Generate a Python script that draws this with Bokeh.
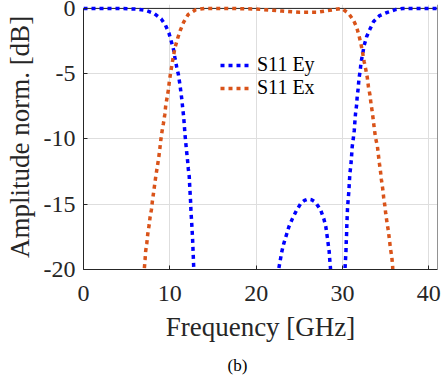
import math
from bokeh.plotting import figure
from bokeh.models import Range1d, FixedTicker, Legend, LegendItem, Title, Span
from bokeh.embed import file_html
from bokeh.resources import INLINE

NAN = float("nan")

# S11 Ey (three visible segments, separated by NaN where below -20 dB)
ey_freq = [0, 2, 4, 6.2, 7.2, 8.2, 9.0, 9.5, 9.9, 10.2, 10.45, 10.6, 10.8, 11.0, 11.16, 11.28,
           11.4, 11.5, 11.6, 11.68, 11.76, 11.86, 11.95, 12.06, 12.14, 12.25, 12.3, 12.36, 12.41,
           12.45, 12.52, 12.57, 12.63, 12.67, 12.71, 12.75, 12.8,
           NAN,
           22.5, 22.64, 22.8, 22.98, 23.2, 23.5, 23.8, 24.2, 24.65, 25.2, 25.6, 26.0, 26.4, 26.86,
           27.44, 27.83, 28.06, 28.2, 28.33, 28.45, 28.52, 28.6, 28.65,
           NAN,
           30.25, 30.3, 30.35, 30.4, 30.43, 30.47, 30.5, 30.54, 30.58, 30.66, 30.74, 30.79, 30.86,
           30.97, 31.05, 31.12, 31.24, 31.36, 31.43, 31.5, 31.63, 31.7, 31.82, 31.9, 32.05, 32.15,
           32.33, 32.5, 32.8, 33.2, 33.6, 34.3, 35.2, 36.2, 37, 39, 41]
ey_db = [0, 0, 0, -0.05, -0.15, -0.4, -0.8, -1.3, -1.9, -2.6, -3.2, -3.85, -4.5, -5.1, -5.8, -6.4,
         -7.05, -7.7, -8.3, -9.0, -9.7, -10.4, -11.0, -11.7, -12.3, -12.9, -13.6, -14.3, -14.9,
         -15.6, -16.3, -16.9, -17.6, -18.25, -18.9, -19.6, -20.5,
         NAN,
         -20.5, -19.85, -19.25, -18.6, -18.0, -17.35, -16.7, -16.1, -15.5, -14.9, -14.7, -14.6, -14.65,
         -14.85, -15.4, -16.1, -16.7, -17.35, -18.0, -18.6, -19.25, -19.85, -20.5,
         NAN,
         -20.5, -19.8, -19.2, -18.55, -17.9, -17.3, -16.6, -15.95, -15.3, -14.6, -13.95, -13.3, -12.6,
         -12.0, -11.3, -10.6, -10.0, -9.35, -8.7, -8.1, -7.4, -6.75, -6.1, -5.4, -4.75, -4.1,
         -3.5, -2.85, -2.15, -1.55, -1.0, -0.55, -0.3, -0.08, 0, 0, 0]

# S11 Ex
ex_freq = [7.0, 7.05, 7.13, 7.2, 7.33, 7.44, 7.6, 7.71, 7.87, 7.99, 8.14, 8.26, 8.41, 8.57, 8.72,
           8.84, 8.95, 9.1, 9.26, 9.42, 9.53, 9.69, 9.84, 9.96, 10.1, 10.27, 10.43, 10.6, 10.9,
           11.2, 11.6, 12.13, 13.0, 14, 17, 20, 23, 25, 27, 28.5, 29.9, 30.66, 31.24, 31.63,
           31.9, 32.13, 32.33, 32.5, 32.7, 32.87, 33.0, 33.17, 33.3, 33.45, 33.57, 33.68, 33.82,
           34.04, 34.15, 34.27, 34.4, 34.5, 34.65, 34.77, 34.9, 35.0, 35.15, 35.3, 35.43, 35.55,
           35.7, 35.8, 35.85]
ex_db = [-20.5, -19.9, -19.25, -18.6, -18.0, -17.3, -16.6, -16.0, -15.4, -14.7, -14.0, -13.4, -12.7,
         -12.05, -11.4, -10.75, -10.1, -9.4, -8.8, -8.1, -7.4, -6.8, -6.2, -5.5, -4.9, -4.2, -3.6,
         -3.0, -2.3, -1.7, -1.05, -0.46, -0.1, 0, 0, -0.05, -0.2, -0.3, -0.3, -0.15, 0, -0.36,
         -0.87, -1.43, -2.07, -2.7, -3.4, -4.05, -4.7, -5.3, -6.0, -6.6, -7.3, -7.95, -8.6, -9.2,
         -9.9, -10.56, -11.2, -11.86, -12.5, -13.1, -13.8, -14.5, -15.1, -15.7, -16.4, -17.0,
         -17.7, -18.4, -19.0, -19.7, -20.5]

x_ticks = [0, 10, 20, 30, 40]
x_tick_labels = ["0", "10", "20", "30", "40"]
y_ticks = [-20, -15, -10, -5, 0]
y_tick_labels = ["-20", "-15", "-10", "-5", "0"]

SERIF = "'Liberation Serif'"
TICK_SERIF = "Liberation Serif"
DARK = "#262626"
BLUE = "#0000FF"
ORANGE = "#D95319"

p = figure(width=444, height=385, output_backend="svg", toolbar_location=None,
           x_range=Range1d(0, 41), y_range=Range1d(-20, 0.3),
           min_border_left=83, min_border_right=7, min_border_top=4, min_border_bottom=116)
p.outline_line_color = None
p.background_fill_color = "white"
p.border_fill_color = "white"

p.grid.grid_line_color = "#dedede"
p.xgrid.ticker = FixedTicker(ticks=x_ticks)
p.ygrid.ticker = FixedTicker(ticks=y_ticks)

xa = p.xaxis[0]
xa.ticker = FixedTicker(ticks=x_ticks)
xa.major_label_overrides = dict(zip(x_ticks, x_tick_labels))
xa.axis_label = "Frequency [GHz]"
ya = p.yaxis[0]
ya.ticker = FixedTicker(ticks=y_ticks)
ya.major_label_overrides = dict(zip(y_ticks, y_tick_labels))
ya.axis_label = "Amplitude norm. [dB]"
ya.bounds = (-20, 0)

for ax in (xa, ya):
    ax.axis_line_color = DARK
    ax.major_tick_line_color = DARK
    ax.major_tick_in = 4
    ax.major_tick_out = 0
    ax.minor_tick_line_color = None
    ax.major_label_text_font = TICK_SERIF
    ax.major_label_text_font_size = "24px"
    ax.major_label_text_color = DARK
    ax.axis_label_text_font = SERIF
    ax.axis_label_text_font_size = "27px"
    ax.axis_label_text_font_style = "normal"
    ax.axis_label_text_color = DARK

xa.major_label_standoff = 16
xa.axis_label_standoff = 8
ya.major_label_standoff = 8
ya.axis_label_standoff = 6

right_edge = Span(location=p.x_range.end, dimension="height", line_color=DARK, line_width=1,
                  level="underlay")
top_edge = Span(location=y_ticks[-1], dimension="width", line_color=DARK, line_width=1,
                level="underlay")
p.add_layout(right_edge)
p.add_layout(top_edge)

r_ey = p.line(ey_freq, ey_db, line_color=BLUE, line_width=3.5, line_dash="4 4", line_cap="butt")
r_ex = p.line(ex_freq, ex_db, line_color=ORANGE, line_width=3.5, line_dash="4 4", line_cap="butt")

legend = Legend(items=[LegendItem(label="S11 Ey", renderers=[r_ey]),
                       LegendItem(label="S11 Ex", renderers=[r_ex])],
                location=(127, 160), padding=10, margin=0, spacing=0,
                glyph_width=31, label_standoff=6,
                label_text_font=SERIF, label_text_font_size="20px", label_text_color="black",
                background_fill_alpha=0, border_line_alpha=0)
p.add_layout(legend, "center")

cap = Title(text="(b)", align="left", offset=144, text_font=SERIF, text_font_size="17px",
            text_font_style="normal", text_color="black", standoff=19)
p.add_layout(cap, "below")

open("out.html", "w").write(file_html(p, INLINE))
